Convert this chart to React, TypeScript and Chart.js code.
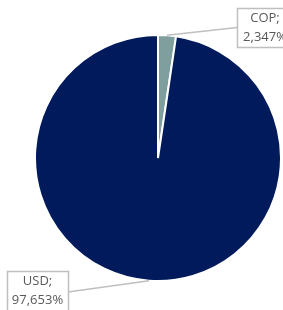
import React, { useEffect, useRef } from "react";
import { Chart, registerables } from "chart.js";

Chart.register(...registerables);

const categories = ["COP", "USD"];
const values = [2.347, 97.653];
const colors = ["#7F9F9F", "#001A5C"];

const labelBoxes = [
  { x: 237, y: 8, w: 56, h: 39 },
  { x: 7, y: 271, w: 61, h: 42 },
];

const calloutPlugin = {
  id: "callouts",
  afterDraw(chart: any) {
    const ctx = chart.ctx;
    const meta = chart.getDatasetMeta(0);
    ctx.save();
    meta.data.forEach((arc: any, i: number) => {
      const { x, y, startAngle, endAngle, outerRadius } = arc.getProps(
        ["x", "y", "startAngle", "endAngle", "outerRadius"],
        true
      );
      const mid = (startAngle + endAngle) / 2;
      const ax = x + Math.cos(mid) * outerRadius;
      const ay = y + Math.sin(mid) * outerRadius;
      const b = labelBoxes[i];
      const bx = ax > b.x + b.w / 2 ? b.x + b.w : b.x;
      const by = b.y + b.h / 2;
      ctx.strokeStyle = "#BFBFBF";
      ctx.lineWidth = 1.5;
      ctx.beginPath();
      ctx.moveTo(ax, ay);
      ctx.lineTo(bx, by);
      ctx.stroke();
      ctx.fillStyle = "#FFFFFF";
      ctx.fillRect(b.x, b.y, b.w, b.h);
      ctx.strokeRect(b.x + 0.5, b.y + 0.5, b.w, b.h);
      ctx.fillStyle = "#595959";
      ctx.font = '13px "Open Sans", sans-serif';
      ctx.textAlign = "center";
      ctx.textBaseline = "middle";
      const cx = b.x + b.w / 2;
      ctx.fillText(categories[i] + ";", cx, b.y + 10);
      ctx.fillText(values[i].toFixed(3).replace(".", ",") + "%", cx, b.y + 29);
    });
    ctx.restore();
  },
};

export default function App() {
  const ref = useRef<HTMLCanvasElement>(null);
  useEffect(() => {
    document.body.style.margin = "0";
    const chart = new Chart(ref.current!, {
      type: "pie",
      data: {
        labels: categories,
        datasets: [
          {
            data: values,
            backgroundColor: colors,
            borderColor: "#FFFFFF",
            borderWidth: 2,
          },
        ],
      },
      options: {
        responsive: false,
        animation: false,
        layout: { padding: { left: 34, right: 1, top: 34, bottom: 28 } },
        plugins: { legend: { display: false }, tooltip: { enabled: false } },
      },
      plugins: [calloutPlugin],
    });
    return () => chart.destroy();
  }, []);
  return (
    <div style={{ width: 283, height: 310, background: "#fff" }}>
      <canvas ref={ref} width={283} height={310} style={{ display: "block" }} />
    </div>
  );
}
